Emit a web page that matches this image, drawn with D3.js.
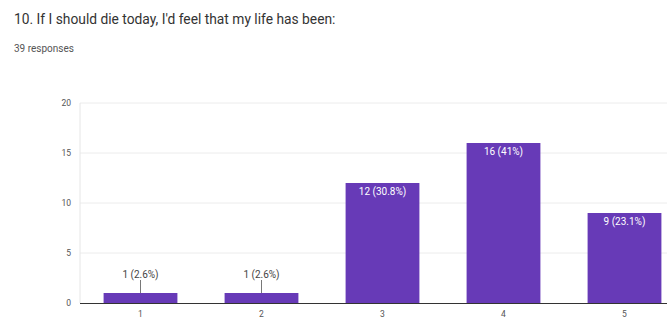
<!DOCTYPE html>
<html><head><meta charset="utf-8">
<script src="https://cdn.jsdelivr.net/npm/d3@7"></script>
<style>body{margin:0;background:#fff;overflow:hidden}svg{display:block}</style>
</head><body>
<svg id="c" width="667" height="320"></svg>
<script>
const titleText = "10. If I should die today, I'd feel that my life has been:";
const subtitleText = "39 responses";
const categories = ["1","2","3","4","5"];
const counts = [1,1,12,16,9];
const labels = ["1 (2.6%)","1 (2.6%)","12 (30.8%)","16 (41%)","9 (23.1%)"];
const yTicks = [0,5,10,15,20];

const svg = d3.select("#c");
const font = "Roboto, 'Noto Sans', sans-serif";
svg.append("rect").attr("width",667).attr("height",320).attr("fill","#fff");
svg.append("text").attr("x",14).attr("y",24).attr("font-family",font).attr("font-size",13.8).attr("fill","#333").text(titleText);
svg.append("text").attr("x",14).attr("y",52).attr("font-family",font).attr("font-size",10).attr("fill","#555").text(subtitleText);

const x = d3.scaleBand().domain(categories).range([80,685]).paddingInner(0.39).paddingOuter(0.195);
const y = d3.scaleLinear().domain([0,20]).range([303,103]);

// gridlines
svg.append("g").selectAll("line").data(yTicks.filter(d=>d>0)).join("line")
  .attr("x1",80).attr("x2",667).attr("y1",d=>y(d)).attr("y2",d=>y(d))
  .attr("stroke","#ececec").attr("stroke-width",1);
svg.append("line").attr("x1",80).attr("x2",80).attr("y1",y(20)).attr("y2",y(0)).attr("stroke","#e6e6e6");

// y axis labels
const ya = svg.append("g").attr("transform","translate(80,0)")
  .call(d3.axisLeft(y).tickValues(yTicks).tickSize(0).tickPadding(9));
ya.select(".domain").remove();
ya.selectAll("text").attr("font-family",font).attr("font-size",8.5).attr("fill","#555");

// bars
svg.append("g").selectAll("rect").data(counts).join("rect")
  .attr("x",(d,i)=>x(categories[i])).attr("width",x.bandwidth())
  .attr("y",d=>y(d)).attr("height",d=>y(0)-y(d)).attr("fill","#673ab7");

// baseline
svg.append("line").attr("x1",80).attr("x2",667).attr("y1",y(0)+0.5).attr("y2",y(0)+0.5).attr("stroke","#333").attr("stroke-width",1);

// x axis labels
const xa = svg.append("g").attr("transform",`translate(0,${y(0)})`)
  .call(d3.axisBottom(x).tickSize(0).tickPadding(8));
xa.select(".domain").remove();
xa.selectAll("text").attr("font-family",font).attr("font-size",8.5).attr("fill","#555");

// value labels
const lab = svg.append("g");
counts.forEach((v,i)=>{
  const cx = x(categories[i]) + x.bandwidth()/2;
  if (y(0)-y(v) > 20) {
    lab.append("text").attr("x",cx).attr("y",y(v)+12).attr("text-anchor","middle")
      .attr("font-family",font).attr("font-size",10).attr("fill","#fff").text(labels[i]);
  } else {
    lab.append("line").attr("x1",cx).attr("x2",cx).attr("y1",y(v)-13).attr("y2",y(v)).attr("stroke","#555").attr("stroke-width",0.8);
    lab.append("text").attr("x",cx).attr("y",y(v)-15).attr("text-anchor","middle")
      .attr("font-family",font).attr("font-size",10).attr("fill","#444").text(labels[i]);
  }
});
</script>
</body></html>
